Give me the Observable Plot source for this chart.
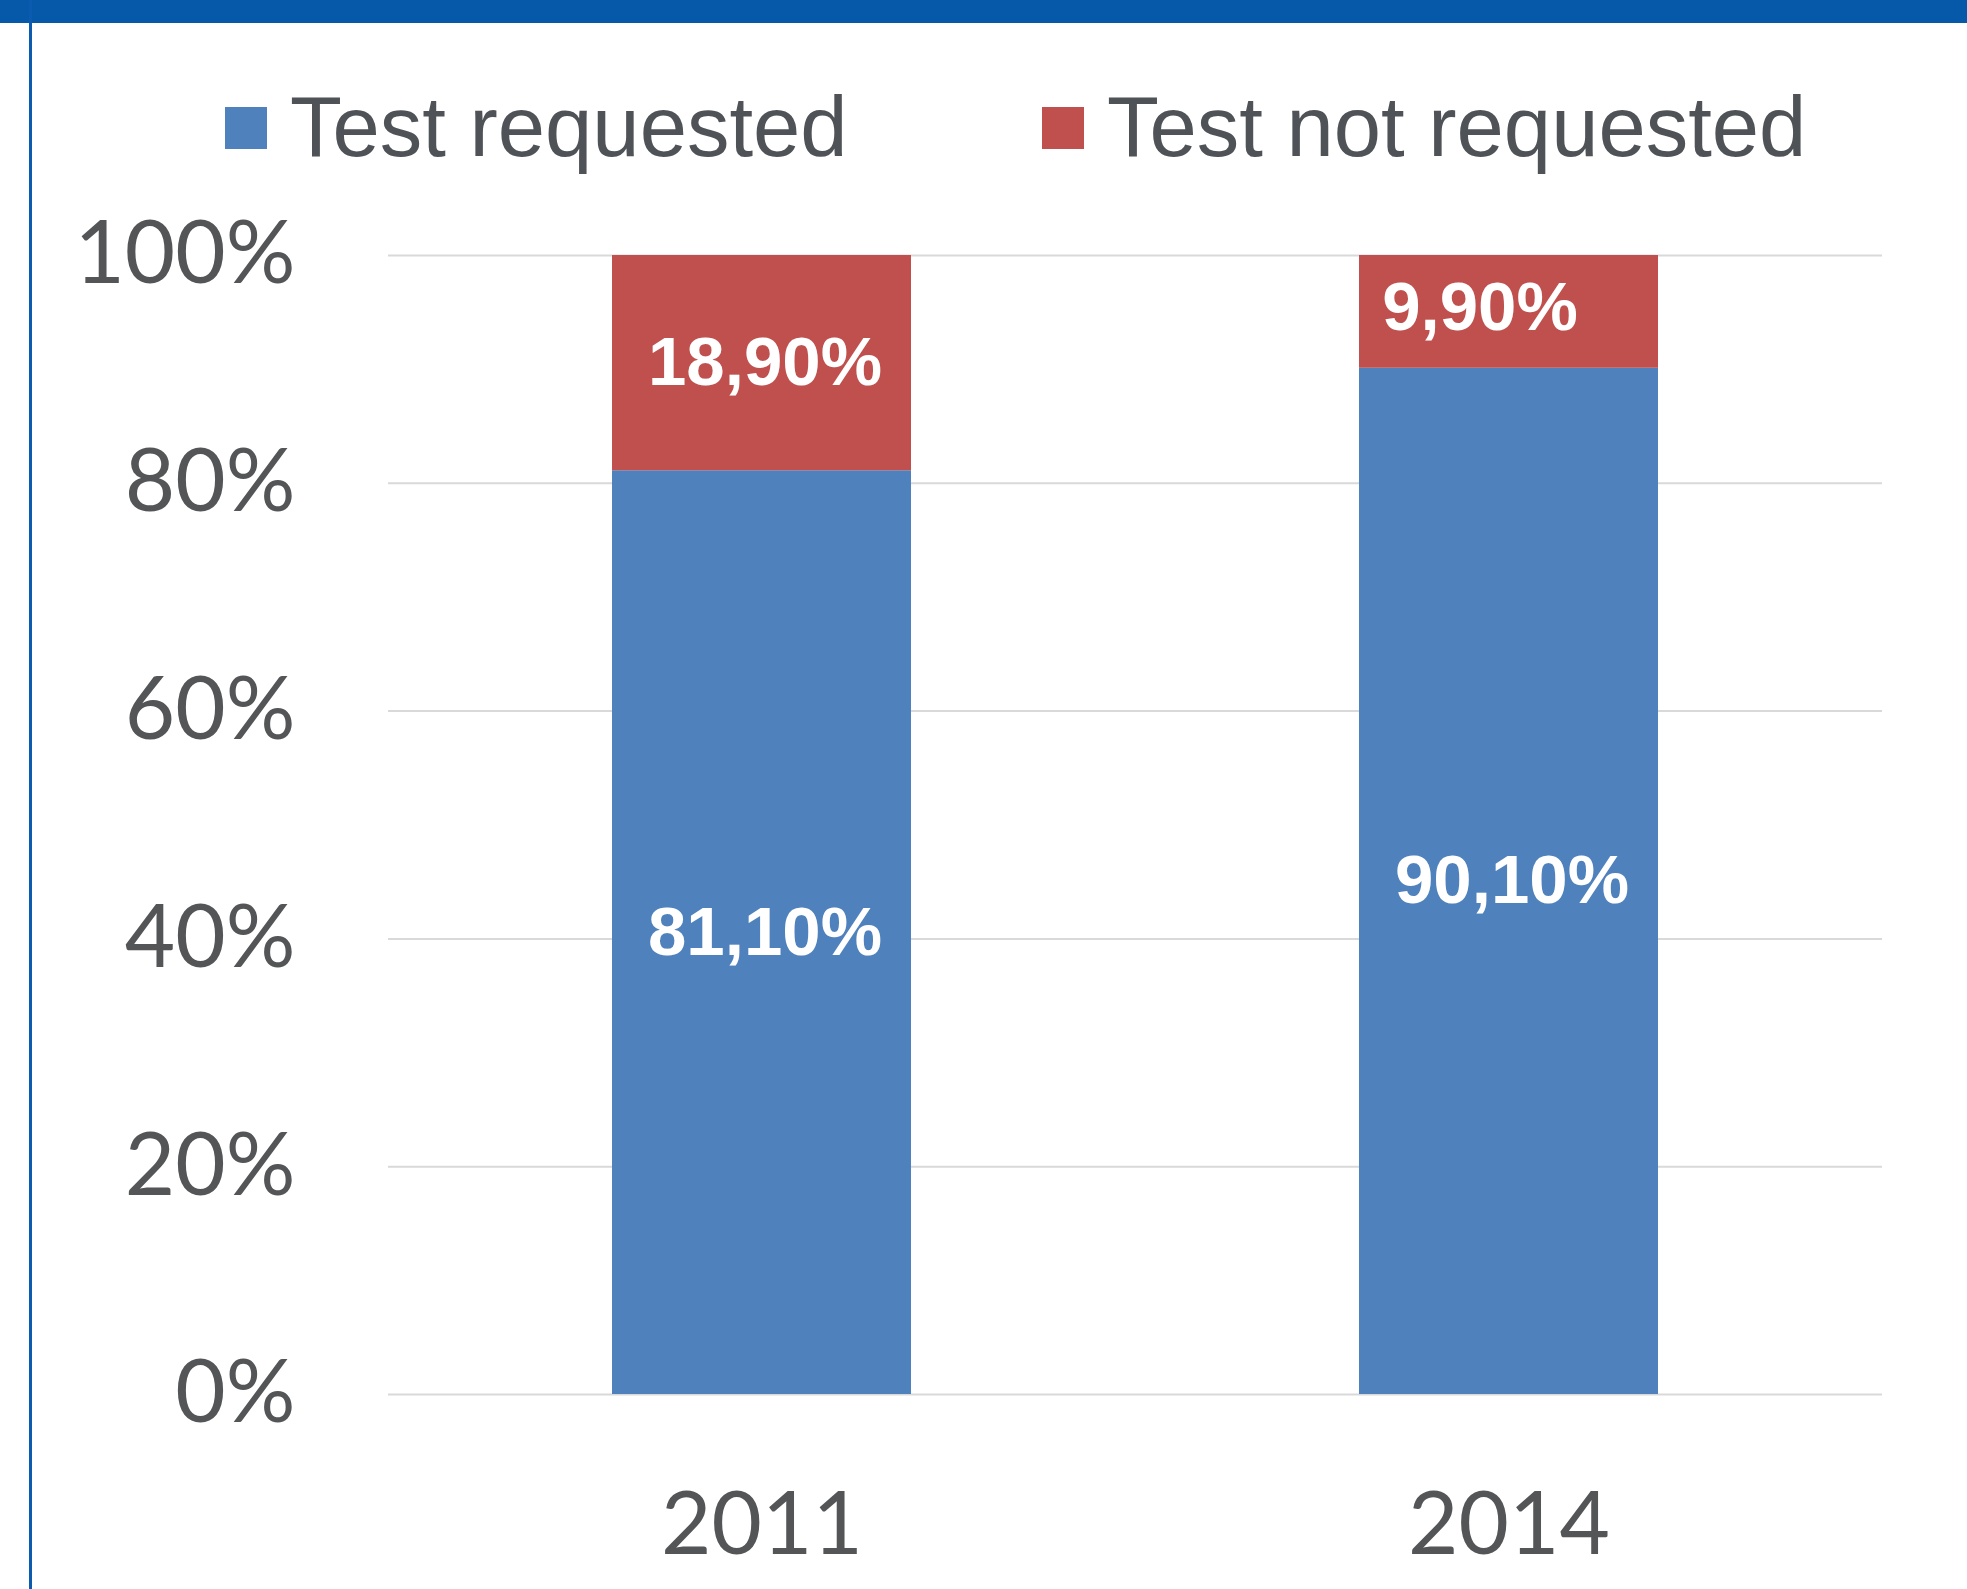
<!DOCTYPE html>
<html>
<head>
<meta charset="utf-8">
<script src="https://cdn.jsdelivr.net/npm/d3@7"></script>
<script src="https://cdn.jsdelivr.net/npm/@observablehq/plot@0.6"></script>
<style>
  html, body { margin: 0; padding: 0; background: #fff; }
  #page { position: relative; width: 1967px; height: 1589px; overflow: hidden; background: #fff; }
  #band { position: absolute; left: 0; top: 0; width: 1967px; height: 23px; background: #0559a8; }
  #border { position: absolute; left: 29px; top: 0; width: 3px; height: 1589px; background: #0b5cb0; }
  #legend { position: absolute; left: 0; top: 23px; width: 1967px; height: 177px; }
  .item { position: absolute; top: 61px; height: 85px; display: flex; align-items: flex-start; }
  .sw { width: 42px; height: 42px; margin-top: 23px; }
  .lbl { font-family: "Liberation Sans", Arial, sans-serif; font-size: 85px; line-height: 85px; color: #4f5256; margin-left: 23px; white-space: nowrap; }
  #chart { position: absolute; left: 0; top: 200px; }
</style>
</head>
<body>
<div id="page">
  <div id="band"></div>
  <div id="legend"></div>
  <div id="chart"></div>
  <div id="border"></div>
</div>
<script>
const years = ["2011", "2014"];
const seriesNames = ["Test requested", "Test not requested"];
const requested = [81.1, 90.1];
const notRequested = [18.9, 9.9];
const yTicks = [0, 20, 40, 60, 80, 100];
const seriesColors = ["#4F81BD", "#C0504D"];

const rows = [];
years.forEach((yr, i) => {
  rows.push({year: yr, series: seriesNames[0], value: requested[i]});
  rows.push({year: yr, series: seriesNames[1], value: notRequested[i]});
});

const fmt = v => v.toFixed(2).replace(".", ",") + "%";

// Legend
const legend = document.getElementById("legend");
const legendLefts = [225, 1042];
seriesNames.forEach((s, i) => {
  const it = document.createElement("div");
  it.className = "item";
  it.style.left = legendLefts[i] + "px";
  const sw = document.createElement("div");
  sw.className = "sw";
  sw.style.background = seriesColors[i];
  const lb = document.createElement("div");
  lb.className = "lbl";
  lb.textContent = s;
  it.appendChild(sw);
  it.appendChild(lb);
  legend.appendChild(it);
});

const isSmall = d => d.value < 12;
const labelStyle = {
  fill: "white", fontWeight: "bold", fontSize: 69,
  fontFamily: "'Liberation Sans', Arial, sans-serif"
};

const chart = Plot.plot({
  width: 1967,
  height: 1389,
  marginLeft: 388,
  marginRight: 85,
  marginTop: 55,
  marginBottom: 195,
  style: {fontFamily: "Lato, 'Open Sans', sans-serif", fontSize: "87px", color: "#535557", background: "transparent", overflow: "visible"},
  x: {domain: years, paddingInner: 0.6, paddingOuter: 0.3, label: null},
  y: {domain: [0, 100], label: null},
  color: {domain: seriesNames, range: seriesColors},
  marks: [
    Plot.ruleY(yTicks, {stroke: "#d9d9d9", strokeWidth: 2}),
    Plot.barY(rows, Plot.stackY({x: "year", y: "value", fill: "series", order: seriesNames})),
    Plot.text(rows, Plot.stackY({
      x: "year", y: "value", z: "series", order: seriesNames,
      text: d => isSmall(d) ? "" : fmt(d.value),
      ...labelStyle, dx: 3
    })),
    Plot.text(rows, Plot.stackY({
      x: "year", y: "value", z: "series", order: seriesNames,
      text: d => isSmall(d) ? fmt(d.value) : "",
      ...labelStyle, dx: -29, dy: -4
    })),
    Plot.axisY({ticks: yTicks, tickFormat: d => d + "%", tickSize: 0, tickPadding: 93, label: null}),
    Plot.axisX({tickSize: 0, tickPadding: 98, label: null})
  ]
});
document.getElementById("chart").appendChild(chart);
</script>
</body>
</html>
